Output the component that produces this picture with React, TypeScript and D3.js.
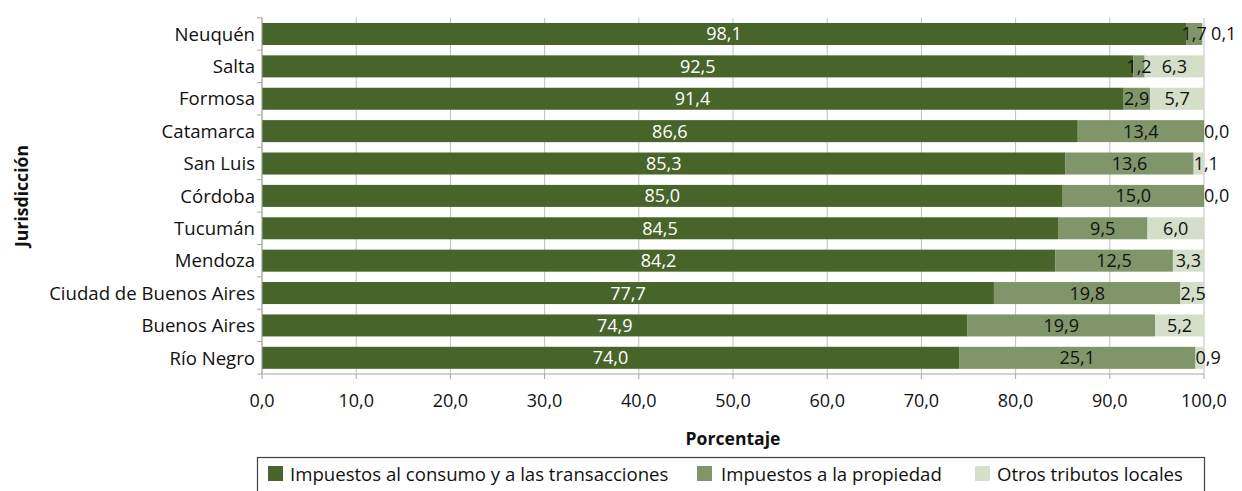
import React from "react";
import * as d3 from "d3";

const categories = ["Neuquén","Salta","Formosa","Catamarca","San Luis","Córdoba","Tucumán","Mendoza","Ciudad de Buenos Aires","Buenos Aires","Río Negro"];
const consumo = [98.1,92.5,91.4,86.6,85.3,85.0,84.5,84.2,77.7,74.9,74.0];
const propiedad = [1.7,1.2,2.9,13.4,13.6,15.0,9.5,12.5,19.8,19.9,25.1];
const otros = [0.1,6.3,5.7,0.0,1.1,0.0,6.0,3.3,2.5,5.2,0.9];
const seriesNames = ["Impuestos al consumo y a las transacciones","Impuestos a la propiedad","Otros tributos locales"];
const xTicks = [0,10,20,30,40,50,60,70,80,90,100];

const colors = ["#47652A","#80966A","#D4DEC9"];
const labelColors = ["#ffffff","#111111","#111111"];
const FONT = "'Open Sans', sans-serif";

export default function App() {
  const W = 1242, H = 491;
  const left = 262, right = 1204, top = 17.8, bottom = 374;
  const x = d3.scaleLinear().domain([0,100]).range([left,right]);
  const y = d3.scaleBand().domain(categories).range([top,bottom]).paddingInner(0.32).paddingOuter(0.16);
  const fmt = (v:number)=> v.toFixed(1).replace(".", ",");
  const seriesVals = [consumo, propiedad, otros];
  const bandStep = y.step();

  const rows = categories.map((c,i)=>{
    let acc = 0;
    return seriesVals.map((s,k)=>{
      const x0 = acc; acc += s[i];
      return {k, x0, x1: acc, v: s[i]};
    });
  });

  const legendItems = [
    {sx: 268, tx: 290},
    {sx: 697, tx: 721},
    {sx: 975, tx: 997},
  ];

  return (
    <svg width={W} height={H} style={{position:"absolute",left:0,top:0,background:"#fff"}} fontFamily={FONT}>
      {xTicks.map(t=>(
        <line key={"g"+t} x1={x(t)} x2={x(t)} y1={top} y2={bottom} stroke="#BFBFBF" strokeWidth={1}/>
      ))}
      {categories.map((c,i)=>(
        <g key={c}>
          {rows[i].map(seg=>(
            <rect key={seg.k} x={x(seg.x0)} y={y(c)!} width={Math.max(0,x(seg.x1)-x(seg.x0))} height={y.bandwidth()} fill={colors[seg.k]}/>
          ))}
          {rows[i].map(seg=>{
            const w = x(seg.x1)-x(seg.x0);
            const narrow = seg.k===2 && w < 24;
            const cx = (x(seg.x0)+x(seg.x1))/2;
            const lx = narrow ? x(seg.x0)+ (seg.v<0.5 && seg.v>0 ? 9 : 0) : cx;
            return (
              <text key={"l"+seg.k} x={lx} y={y(c)!+y.bandwidth()/2} dy="0.36em" textAnchor={narrow?"start":"middle"} fontSize={18} fill={labelColors[seg.k]}>{fmt(seg.v)}</text>
            );
          })}
          <text x={left-7} y={y(c)!+y.bandwidth()/2} dy="0.36em" textAnchor="end" fontSize={18.6} fill="#111">{c}</text>
        </g>
      ))}
      {/* left axis */}
      <line x1={left} x2={left} y1={top} y2={bottom} stroke="#A6A6A6"/>
      {d3.range(categories.length+1).map(i=>(
        <line key={"yt"+i} x1={left-5} x2={left} y1={top+i*bandStep} y2={top+i*bandStep} stroke="#A6A6A6"/>
      ))}
      {/* bottom axis */}
      <line x1={left} x2={right} y1={bottom} y2={bottom} stroke="#A6A6A6"/>
      {xTicks.map(t=>(
        <g key={"xt"+t}>
          <line x1={x(t)} x2={x(t)} y1={bottom} y2={bottom+5} stroke="#A6A6A6"/>
          <text x={x(t)} y={401} dy="0.36em" textAnchor="middle" fontSize={18} fill="#111">{fmt(t)}</text>
        </g>
      ))}
      <text x={(left+right)/2} y={439} dy="0.36em" textAnchor="middle" fontSize={17.6} fontWeight="bold" fill="#111">Porcentaje</text>
      <text transform={`translate(22,196) rotate(-90)`} dy="0.36em" textAnchor="middle" fontSize={17.6} fontWeight="bold" fill="#111">Jurisdicción</text>
      {/* legend */}
      <rect x={257.5} y={457.5} width={947} height={40} fill="none" stroke="#404040" strokeWidth={1.2}/>
      {legendItems.map((it,k)=>(
        <g key={"lg"+k}>
          <rect x={it.sx} y={466} width={15} height={15} fill={colors[k]}/>
          <text x={it.tx} y={474} dy="0.36em" fontSize={18.6} fill="#111">{seriesNames[k]}</text>
        </g>
      ))}
    </svg>
  );
}
